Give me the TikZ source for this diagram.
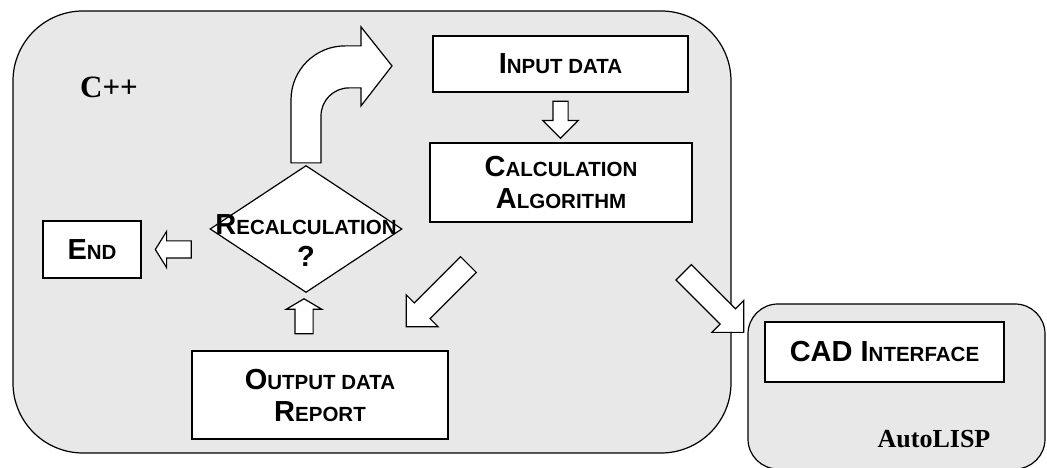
\documentclass[tikz,border=0pt]{standalone}
\usepackage{fontspec}
\setmainfont{Liberation Serif}
\setsansfont{Liberation Sans}
\usepackage{tikz}
\usetikzlibrary{shapes.geometric, shapes.arrows, calc, positioning}

\definecolor{panelgray}{RGB}{232,232,232}
% first letter of the small caps labels
\newcommand{\firstletter}[1]{{\fontsize{29}{32}\selectfont #1}}

\tikzset{
    panel/.style={draw, line width=1.2pt, fill=panelgray, rectangle, inner sep=0pt},
    box/.style={draw, line width=1.2pt, fill=white, rectangle, inner sep=0pt, align=center,
        font=\sffamily\bfseries\fontsize{20.5}{32}\selectfont},
    flowarrow/.style={single arrow, draw, line width=1.2pt, fill=white, inner xsep=0pt},
    langlabel/.style={font=\rmfamily\bfseries}
}

\begin{document}
\begin{tikzpicture}[x=1pt, y=1pt]
    \useasboundingbox (0,0) rectangle (1047,468);
    % Panels
    \node[panel, rounded corners=70pt, minimum width=718, minimum height=442] (cpp) at (372,236) {};
    \node[panel, rounded corners=30pt, minimum width=297, minimum height=165] (lisp) at (896.5,81.5) {};
    \node[langlabel, font=\rmfamily\bfseries\fontsize{31}{34}\selectfont] (cpplabel) at (109,381) {C++};
    \node[langlabel, font=\rmfamily\bfseries\fontsize{26}{30}\selectfont] (lisplabel) at (934,29) {AutoLISP};
%
    % Boxes
    \node[box, minimum width=255, minimum height=56] (input) at (560.5,404) {\firstletter{I}NPUT DATA};
    \node[box, minimum width=262, minimum height=79] (calc) at (561,285.5) {\firstletter{C}ALCULATION\\\firstletter{A}LGORITHM};
    \node[box, minimum width=98, minimum height=57] (end) at (92,218.5) {\firstletter{E}ND};
    \node[box, minimum width=256, minimum height=88] (out) at (320,73) {\firstletter{O}UTPUT DATA\\\firstletter{R}EPORT};
    \node[box, minimum width=239, minimum height=60] (cad) at (884.5,116) {\firstletter{CAD I}NTERFACE};
    \node[diamond, draw, line width=1.2pt, fill=white, minimum width=192, minimum height=127, inner sep=0pt] (dia) at (306,239) {};
    \node[box, draw=none, fill=none] (rec) at (306,227) {\firstletter{R}ECALCULATION\\\firstletter{?}};
%
    % Block arrows
    \node[flowarrow, rotate=-90, minimum height=37, inner ysep=7, single arrow head extend=10,
        anchor=tail] (a1) at ($(input.south)+(0,-8)$) {};
    \node[flowarrow, rotate=-135, minimum height=88, inner ysep=10.5, single arrow head extend=11.5,
        anchor=tip] (a2) at ($(out.north east)+(-43,23)$) {};
    \node[flowarrow, rotate=-45, minimum height=85, inner ysep=10.25, single arrow head extend=11.75,
        anchor=tip] (a3) at ($(cad.west)+(-20,19)$) {};
    \node[flowarrow, rotate=90, minimum height=35, inner ysep=8.5, single arrow head extend=8.5,
        single arrow tip angle=119, anchor=tip] (a4) at ($(dia.south)+(-2,-5)$) {};
    \node[flowarrow, rotate=180, minimum height=36, inner ysep=8, single arrow head extend=9.5,
        single arrow tip angle=116, anchor=tip] (a5) at ($(end.east)+(13,0)$) {};
%
    % Bent arrow back to the input
    \begin{scope}[shift={(dia.north)}]
        \draw[line width=1.2pt, fill=white] (-15,2) -- (-15,65) arc[start angle=180, end angle=90, radius=54]
            -- (55,119) -- (55,138) -- (86,99) -- (55,59) -- (55,77) -- (43,77)
            arc[start angle=90, end angle=180, radius=28] -- (15,2) -- cycle;
    \end{scope}
\end{tikzpicture}
\end{document}
